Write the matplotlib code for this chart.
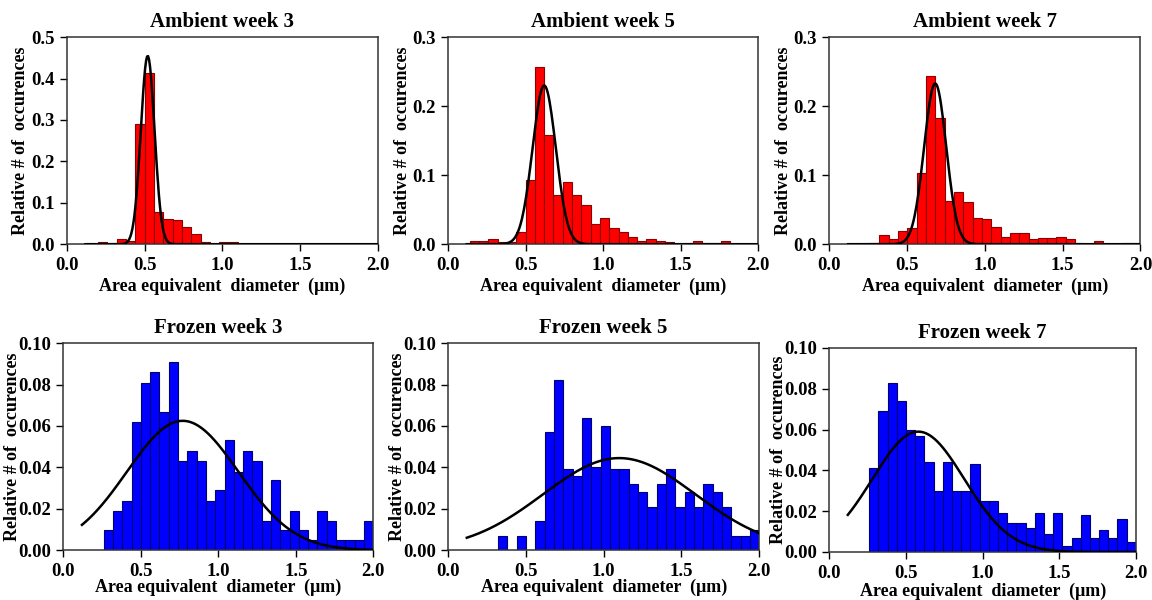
import numpy as np
import matplotlib
matplotlib.use('Agg')
import matplotlib.pyplot as plt

plt.rcParams['font.family'] = ['Liberation Serif', 'DejaVu Serif']
plt.rcParams['font.weight'] = 'bold'

# common histogram grid (diameter in um)
bin_start = 0.14
bin_width = 0.06
n_bins = 31

# relative occurrences per bin
ambient_w3 = [0, 0.006, 0, 0.013, 0.008, 0.290, 0.413, 0.078, 0.062, 0.058, 0.042,
              0.025, 0.006, 0, 0.006, 0.006, 0, 0, 0, 0, 0, 0, 0, 0, 0, 0, 0, 0, 0, 0, 0]
ambient_w5 = [0.004, 0.004, 0.007, 0.003, 0.003, 0.017, 0.093, 0.257, 0.158, 0.072, 0.090,
              0.072, 0.057, 0.030, 0.038, 0.024, 0.017, 0.011, 0.005, 0.008, 0.005, 0.003,
              0, 0.002, 0.004, 0.002, 0.002, 0.004, 0, 0, 0]
ambient_w7 = [0, 0, 0.002, 0.013, 0.007, 0.019, 0.023, 0.103, 0.244, 0.183, 0.062,
              0.075, 0.061, 0.038, 0.037, 0.025, 0.010, 0.016, 0.016, 0.008, 0.009, 0.009,
              0.011, 0.007, 0.002, 0, 0.004, 0, 0, 0.002, 0.002]
frozen_w3 = [0, 0, 0.010, 0.019, 0.024, 0.062, 0.081, 0.086, 0.067, 0.091, 0.043,
             0.048, 0.043, 0.024, 0.029, 0.053, 0.038, 0.048, 0.043, 0.014, 0.034, 0.010,
             0.019, 0.010, 0.005, 0.019, 0.014, 0.005, 0.005, 0.005, 0.014]
frozen_w5 = [0, 0, 0, 0.007, 0, 0.007, 0, 0.014, 0.057, 0.082, 0.039,
             0.036, 0.064, 0.040, 0.060, 0.039, 0.039, 0.032, 0.028, 0.021, 0.032, 0.039,
             0.021, 0.028, 0.021, 0.032, 0.028, 0.021, 0.007, 0.007, 0.010]
frozen_w7 = [0, 0, 0.041, 0.069, 0.083, 0.074, 0.060, 0.057, 0.044, 0.030, 0.044,
             0.030, 0.030, 0.043, 0.025, 0.025, 0.019, 0.014, 0.014, 0.012, 0.019, 0.009,
             0.019, 0.003, 0.007, 0.018, 0.007, 0.011, 0.007, 0.016, 0.005]

# gaussian fit parameters: amplitude, mean, sigma
fit_ambient_w3 = (0.455, 0.52, 0.044)
fit_ambient_w5 = (0.230, 0.62, 0.075)
fit_ambient_w7 = (0.233, 0.68, 0.071)
fit_frozen_w3 = (0.0625, 0.77, 0.36)
fit_frozen_w5 = (0.0445, 1.10, 0.49)
fit_frozen_w7 = (0.059, 0.58, 0.30)

titles = ['Ambient week 3', 'Ambient week 5', 'Ambient week 7',
          'Frozen week 3', 'Frozen week 5', 'Frozen week 7']

fig = plt.figure(figsize=(11.52, 6.0), dpi=100)

panels = [
    # rect, heights, fit, ymax, ystep, fmt, face, edge, xlabelpad, ylabelpad
    ([0.058, 0.593, 0.270, 0.345], ambient_w3, fit_ambient_w3, 0.5, 0.1, '%.1f', '#ff0000', '#8b0000', 3, 1),
    ([0.389, 0.593, 0.269, 0.345], ambient_w5, fit_ambient_w5, 0.3, 0.1, '%.1f', '#ff0000', '#8b0000', 3, 1),
    ([0.720, 0.593, 0.270, 0.345], ambient_w7, fit_ambient_w7, 0.3, 0.1, '%.1f', '#ff0000', '#8b0000', 3, 1),
    ([0.055, 0.083, 0.269, 0.345], frozen_w3, fit_frozen_w3, 0.1, 0.02, '%.2f', '#0000ff', '#000070', -1, -2),
    ([0.389, 0.083, 0.270, 0.345], frozen_w5, fit_frozen_w5, 0.1, 0.02, '%.2f', '#0000ff', '#000070', -1, -2),
    ([0.720, 0.080, 0.266, 0.340], frozen_w7, fit_frozen_w7, 0.1, 0.02, '%.2f', '#0000ff', '#000070', 1, -2),
]

edges = bin_start + bin_width * np.arange(n_bins)
xfit = np.linspace(0.12, 2.0, 300)

for title, (rect, heights, fit, ymax, ystep, fmt, face, edge, lpad, ypad) in zip(titles, panels):
    ax = fig.add_axes(rect)
    h = np.array(heights)
    keep = h > 0
    ax.bar(edges[keep], h[keep], width=bin_width, align='edge',
           color=face, edgecolor=edge, linewidth=0.8, zorder=2)
    amp, mu, sig = fit
    ax.plot(xfit, amp * np.exp(-(xfit - mu) ** 2 / (2 * sig ** 2)),
            color='black', linewidth=1.8, zorder=3)

    ax.set_xlim(0, 2.0)
    ax.set_ylim(0, ymax)
    ax.set_xticks([0, 0.5, 1.0, 1.5, 2.0])
    ax.set_yticks(np.arange(0, ymax + ystep / 2, ystep))
    ax.xaxis.set_major_formatter(matplotlib.ticker.FormatStrFormatter('%.1f'))
    ax.yaxis.set_major_formatter(matplotlib.ticker.FormatStrFormatter(fmt))
    ax.tick_params(direction='out', length=5, width=1, labelsize=13.5, pad=4)
    for s in ax.spines.values():
        s.set_color('#333333')
        s.set_linewidth(1.1)

    ax.set_title(title, fontsize=15, fontweight='bold', pad=7)
    ax.set_xlabel('Area equivalent  diameter  (\u03bcm)', fontsize=13,
                  fontweight='bold', labelpad=lpad)
    ax.set_ylabel('Relative # of  occurences', fontsize=13,
                  fontweight='bold', labelpad=ypad)

fig.savefig('out.png', dpi=100)
